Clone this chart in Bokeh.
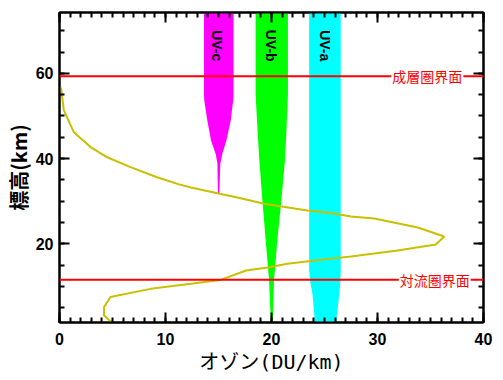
import math
from bokeh.plotting import figure
from bokeh.models import Range1d, LinearAxis, SingleIntervalTicker, Span, Label
from bokeh.core.properties import value
from bokeh.embed import file_html
from bokeh.resources import INLINE

# Ozone profile (DU/km vs altitude km)
ozone_alt = [56.7, 56.4, 51.3, 46.2, 42.7, 40.3, 38.0, 35.6, 34.0, 33.2, 31.8, 30.7, 29.4,
             27.8, 27.2, 26.4, 25.9, 23.8, 21.7, 19.8, 18.4, 17.0, 16.5, 16.1, 15.3,
             14.5, 13.7, 11.5, 10.6, 9.4, 7.5, 5.1, 3.2, 2.0, 1.5]
ozone_val = [0.05, 0.16, 0.41, 1.35, 2.93, 4.5, 6.7, 9.2, 11.2, 12.4, 15.0, 17.1, 19.3,
             23.4, 25.6, 27.5, 29.7, 33.8, 36.3, 35.5, 31.9, 27.5, 25.6, 24.3, 21.5,
             19.8, 17.6, 15.2, 12.4, 8.6, 4.8, 4.2, 4.2, 4.7, 5.0]

# UV penetration bands
uvc_alt = [74.3, 55.0, 53.6, 48.9, 44.2, 41.1, 38.8, 35.0, 31.8]
uvc_left = [13.63, 13.63, 13.66, 13.95, 14.30, 14.73, 14.90, 14.92, 14.95]
uvc_right = [16.42, 16.42, 16.38, 16.15, 15.74, 15.36, 15.17, 15.12, 15.08]

uvb_alt = [74.3, 55.0, 46.0, 39.6, 30.2, 20.8, 11.4, 2.8, 1.5]
uvb_left = [18.50, 18.50, 18.70, 18.85, 19.14, 19.45, 19.77, 19.92, 19.95]
uvb_right = [21.55, 21.55, 21.40, 21.27, 20.93, 20.55, 20.24, 20.14, 20.10]

uva_alt = [74.3, 14.0, 11.0, 8.3, 1.5]
uva_left = [23.55, 23.55, 23.65, 23.86, 24.10]
uva_right = [26.53, 26.53, 26.50, 26.40, 26.10]

uv_labels = ["UV-c", "UV-b", "UV-a"]
uv_label_x = [14.85, 19.95, 25.0]
uv_label_y = [66.5, 66.5, 66.5]

pause_alt = [59.3, 11.55]
pause_names = ["成層圏界面", "対流圏界面"]
pause_label_x = [34.7, 35.4]

p = figure(width=503, height=380, x_range=Range1d(0, 40), y_range=Range1d(1.5, 74.3),
           output_backend="svg", toolbar_location=None,
           min_border_left=59, min_border_top=12, min_border_right=20, min_border_bottom=58)
p.grid.visible = False
p.outline_line_color = "black"
p.outline_line_width = 2

p.harea(y=uvc_alt, x1=uvc_left, x2=uvc_right, fill_color="#ff00ff")
p.harea(y=uvb_alt, x1=uvb_left, x2=uvb_right, fill_color="#00ff00")
p.harea(y=uva_alt, x1=uva_left, x2=uva_right, fill_color="#00ffff")

p.text(x=uv_label_x, y=uv_label_y, text=uv_labels, angle=-math.pi / 2,
       text_align="center", text_baseline="middle", text_color="black",
       text_font=value("Liberation Sans"), text_font_style="bold", text_font_size="14px")

p.line(ozone_val, ozone_alt, line_color="#c8c000", line_width=2)

for alt, name, lx in zip(pause_alt, pause_names, pause_label_x):
    p.add_layout(Span(location=alt, dimension="width", line_color="red", line_width=2))
    p.add_layout(Label(x=lx, y=alt, text=name, text_align="center", text_baseline="middle",
                       text_color="red", text_font="Noto Sans CJK JP", text_font_size="14px",
                       background_fill_color="white", padding=1))

def style_axis(ax, show_labels):
    ax.axis_line_width = 2
    ax.axis_line_color = "black"
    ax.major_tick_in = 10
    ax.major_tick_out = 0
    ax.minor_tick_in = 5
    ax.minor_tick_out = 0
    ax.major_tick_line_width = 2
    ax.minor_tick_line_width = 2
    ax.major_tick_line_color = "black"
    ax.minor_tick_line_color = "black"
    if show_labels:
        ax.major_label_text_font = "Liberation Sans"
        ax.major_label_text_font_style = "bold"
        ax.major_label_text_font_size = "16px"
        ax.major_label_text_color = "black"
    else:
        ax.major_label_text_font_size = "1px"
        ax.major_label_text_color = None
        ax.major_label_standoff = 0

xt = SingleIntervalTicker(interval=10, num_minor_ticks=10)
yt = SingleIntervalTicker(interval=20, num_minor_ticks=4)

p.xaxis.ticker = xt
p.yaxis.ticker = yt
style_axis(p.xaxis[0], True)
style_axis(p.yaxis[0], True)
p.xaxis.major_label_standoff = 10
p.yaxis.major_label_standoff = 6

p.xaxis.axis_label = "オゾン(DU/km)"
p.xaxis.axis_label_text_font = "DejaVu Sans Mono, Noto Sans CJK JP"
p.xaxis.axis_label_text_font_style = "normal"
p.xaxis.axis_label_text_font_size = "20px"
p.xaxis.axis_label_text_color = "black"
p.xaxis.axis_label_standoff = 2

p.yaxis.axis_label = "標高(km)"
p.yaxis.axis_label_text_font = "Noto Sans CJK JP"
p.yaxis.axis_label_text_font_style = "bold"
p.yaxis.axis_label_text_font_size = "20px"
p.yaxis.axis_label_text_color = "black"
p.yaxis.axis_label_standoff = 0

top = LinearAxis(ticker=SingleIntervalTicker(interval=10, num_minor_ticks=10))
right = LinearAxis(ticker=SingleIntervalTicker(interval=20, num_minor_ticks=4))
style_axis(top, False)
style_axis(right, False)
p.add_layout(top, "above")
p.add_layout(right, "right")

open("out.html", "w").write(file_html(p, INLINE))
